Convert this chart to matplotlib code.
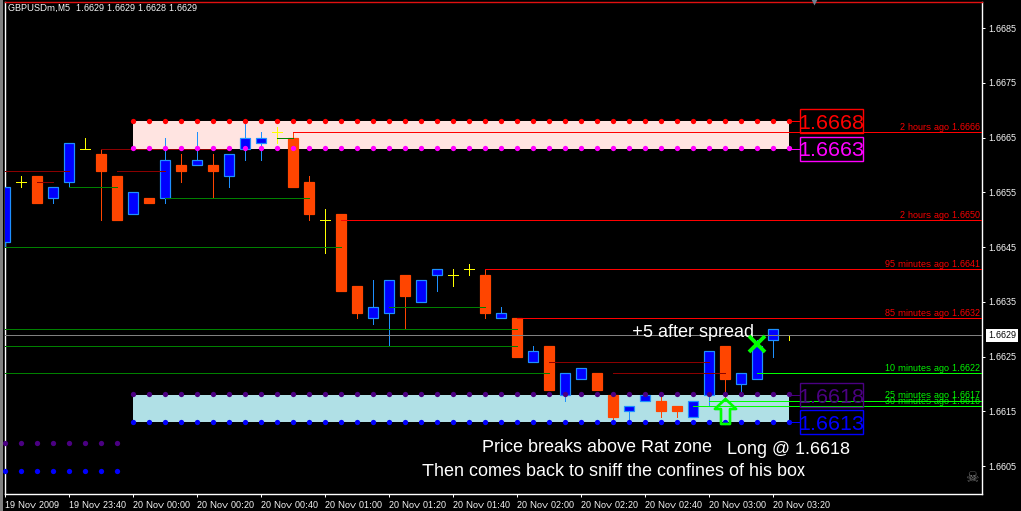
import matplotlib
matplotlib.use("Agg")
import matplotlib.pyplot as plt
from matplotlib.patches import Rectangle
from matplotlib.path import Path
from matplotlib.transforms import blended_transform_factory

plt.rcParams["text.hinting"] = "native"
plt.rcParams["text.hinting_factor"] = 1

# ---------- data ----------
title = "GBPUSDm,M5  1.6629 1.6629 1.6628 1.6629"
opens = [1.6646,1.6657,1.6658,1.6654,1.6657,1.6663,1.6662,1.6658,1.6651,1.6654,
         1.6654,1.6660,1.6660,1.6660,1.6658,1.6663,1.6664,1.6666,1.6665,1.6657,
         1.6650,1.6651,1.6638,1.6632,1.6633,1.6640,1.6635,1.6640,1.6640,1.6641,
         1.6640,1.6632,1.6632,1.6624,1.6627,1.6618,1.6621,1.6622,1.6618,1.6615,
         1.6617,1.6617,1.6616,1.6614,1.6618,1.6627,1.6620,1.6621,1.6628,1.6629]
highs = [1.6656,1.6658,1.6658,1.6656,1.6664,1.6665,1.6663,1.6658,1.6655,1.6654,
         1.6665,1.6662,1.6666,1.6662,1.6662,1.6668,1.6666,1.6667,1.6666,1.6658,
         1.6652,1.6651,1.6638,1.6639,1.6639,1.6640,1.6639,1.6641,1.6641,1.6642,
         1.6641,1.6634,1.6632,1.6627,1.6627,1.6622,1.6623,1.6622,1.6618,1.6616,
         1.6618,1.6618,1.6616,1.6617,1.6626,1.6627,1.6622,1.6628,1.6630,1.6629]
lows = [1.6645,1.6656,1.6653,1.6653,1.6656,1.6663,1.6650,1.6650,1.6651,1.6653,
        1.6653,1.6657,1.6660,1.6654,1.6656,1.6661,1.6661,1.6664,1.6656,1.6650,
        1.6644,1.6637,1.6632,1.6631,1.6627,1.6630,1.6635,1.6637,1.6638,1.6640,
        1.6632,1.6632,1.6625,1.6624,1.6619,1.6617,1.6621,1.6619,1.6613,1.6613,
        1.6617,1.6614,1.6614,1.6614,1.6616,1.6617,1.6618,1.6621,1.6625,1.6628]
closes = [1.6656,1.6657,1.6653,1.6656,1.6664,1.6663,1.6659,1.6650,1.6655,1.6653,
          1.6661,1.6659,1.6661,1.6659,1.6662,1.6665,1.6665,1.6666,1.6656,1.6651,
          1.6650,1.6637,1.6633,1.6634,1.6639,1.6636,1.6639,1.6641,1.6640,1.6641,
          1.6633,1.6633,1.6625,1.6626,1.6619,1.6622,1.6623,1.6619,1.6614,1.6616,
          1.6618,1.6615,1.6615,1.6617,1.6626,1.6621,1.6622,1.6627,1.6630,1.6629]

x_tick_labels = ["19 Nov 2009","19 Nov 23:40","20 Nov 00:00","20 Nov 00:20","20 Nov 00:40",
                 "20 Nov 01:00","20 Nov 01:20","20 Nov 01:40","20 Nov 02:00","20 Nov 02:20",
                 "20 Nov 02:40","20 Nov 03:00","20 Nov 03:20"]
y_ticks = [1.6605,1.6615,1.6625,1.6635,1.6645,1.6655,1.6665,1.6675,1.6685]

# short segments: price, first bar, last bar
dark_red_levels = [1.6659,1.6657,1.6663,1.6659,1.6624,1.6622]
dark_red_from = [0,2,6,7,34,38]
dark_red_to = [4,3,14,10,44,45]
green_levels = [1.6656,1.6654,1.6665,1.6645,1.6634,1.6630,1.6627,1.6622]
green_from = [4,10,17,0,24,0,0,0]
green_to = [7,19,18,21,30,32,32,34]

# levels running to the right edge: price, first bar, caption
red_levels = [1.6666,1.6650,1.6641,1.6632]
red_from = [18,21,30,32]
red_text = ["2 hours ago 1.6666","2 hours ago 1.6650","95 minutes ago 1.6641","85 minutes ago 1.6632"]
lime_levels = [1.6622,1.6617,1.6616]
lime_from = [47,44,43]
lime_text = ["10 minutes ago 1.6622","25 minutes ago 1.6617","30 minutes ago 1.6616"]

last_price = 1.6629
zone_first, zone_last = 8, 49
upper_zone = (1.6663, 1.6668)
lower_zone = (1.6613, 1.6618)
prior_first, prior_last = 0, 7
prior_zone = (1.66041, 1.66093)
entry_price = 1.6618

# ---------- figure ----------
W, H = 1021, 511
BLACK = "#000000"
fig = plt.figure(figsize=(W/100, H/100), dpi=100, facecolor=BLACK)
fig.add_artist(Rectangle((0, 0), 2.5/W, 1, transform=fig.transFigure, fc="#808080", ec="none"))
ax = fig.add_axes([5/W, 17/H, 977/W, 492/H], facecolor=BLACK)
ax.set_xlim(0, 977/16)
ax.set_ylim(1.6665-(494-137.7)/54750, 1.6665+(137.7-2)/54750)
PX = 0.72
FONT = "Liberation Sans"

for s in ("left", "right", "bottom"):
    ax.spines[s].set_color("white"); ax.spines[s].set_linewidth(PX*1.4)
ax.spines["top"].set_color("#e01010"); ax.spines["top"].set_linewidth(PX*1.4)

ax.yaxis.tick_right()
ax.set_yticks(y_ticks, [f"{v:.4f}" for v in y_ticks])
ax.set_xticks(range(0, 4*len(x_tick_labels), 4), x_tick_labels)
ax.tick_params(axis="y", colors="white", length=2.2, width=PX, pad=2, labelsize=6.8)
ax.tick_params(axis="x", colors="white", length=2.2, width=PX, pad=2.5, labelsize=6.8)
for t in ax.get_yticklabels():
    t.set_family(FONT)
for t in ax.get_xticklabels():
    t.set_family(FONT); t.set_ha("left")

# zones
ax.add_patch(Rectangle((zone_first, upper_zone[0]), zone_last-zone_first, upper_zone[1]-upper_zone[0],
                       fc="#FFE4E1", ec="none", zorder=1))
ax.add_patch(Rectangle((zone_first, lower_zone[0]), zone_last-zone_first, lower_zone[1]-lower_zone[0],
                       fc="#B0E0E6", ec="none", zorder=1))

# candles
for i, (o, h, l, c) in enumerate(zip(opens, highs, lows, closes)):
    if o == c:
        ax.vlines(i, l, h, color="yellow", lw=PX, zorder=3, antialiased=False)
        ax.hlines(c, i-0.33, i+0.33, color="yellow", lw=PX, zorder=3, antialiased=False)
        continue
    up = c > o
    edge = "#1E90FF" if up else "#FF4500"
    fill = "#0000FF" if up else "#FF4500"
    ax.vlines(i, l, h, color=edge, lw=PX, zorder=3, antialiased=False)
    ax.bar(i, abs(c-o), bottom=min(o, c), width=10/16, color=fill, edgecolor=edge,
           linewidth=PX*1.2, zorder=4)

# level lines
ax.hlines(last_price, 0, 977/16, color="#808080", lw=PX, zorder=5, antialiased=False)
ax.hlines(dark_red_levels, dark_red_from, dark_red_to, color="#8B0000", lw=PX, zorder=5, antialiased=False)
ax.hlines(green_levels, green_from, green_to, color="#008000", lw=PX, zorder=5, antialiased=False)
ax.hlines(red_levels, red_from, 977/16, color="#FF0000", lw=PX, zorder=5, antialiased=False)
ax.hlines(lime_levels, lime_from, 977/16, color="#00FF00", lw=PX, zorder=5, antialiased=False)
for lv, txt, col in list(zip(red_levels, red_text, ["#FF0000"]*4)) + list(zip(lime_levels, lime_text, ["#00FF00"]*3)):
    ax.annotate(txt, xy=(1, lv), xycoords=("axes fraction", "data"), xytext=(-1.5, 0.2),
                textcoords="offset points", ha="right", va="bottom", color=col, fontsize=6.5,
                zorder=6, family=FONT)

# zone dots
xs = list(range(zone_first, zone_last+1))
px = list(range(prior_first, prior_last+1))
def dots(x, price, col):
    ax.plot(x, [price]*len(x), ls="none", marker="o", ms=3.8, mfc=col, mec="none", zorder=7, clip_on=False)
dots(xs, upper_zone[1]+0.00001, "#FF0000")
dots(xs, upper_zone[0]+0.00001, "#FF00FF")
dots(xs, lower_zone[1]+0.00001, "#4B0082")
dots(xs, lower_zone[0], "#0000FF")
dots(px, prior_zone[1], "#4B0082")
dots(px, prior_zone[0], "#0000FF")

# zone price boxes
for price, col in ((upper_zone[1], "#FF0000"), (upper_zone[0], "#FF00FF"),
                   (lower_zone[1], "#4B0082"), (lower_zone[0], "#0000FF")):
    ax.plot([zone_last, 49.69], [price, price], color=col, lw=PX, zorder=6, antialiased=False)
    ax.add_patch(Rectangle((49.69, price-0.00022), 3.94, 0.00044, fc="none", ec=col, lw=PX*1.4, zorder=6))
    ax.text(51.66, price, f"{price:.4f}", color=col, ha="center", va="center_baseline",
            fontsize=15, family=FONT, zorder=6)

# annotations
ax.text(43.03, 1.66295, "+5 after spread", color="white", fontsize=12.8, ha="center", va="center",
        family=FONT, zorder=8)
ax.text(37.0, 1.66085, "Price breaks above Rat zone", color="white", fontsize=12.85, ha="center", va="center",
        family=FONT, zorder=8)
ax.text(48.97, 1.66081, "Long @ 1.6618", color="white", fontsize=13, ha="center", va="center",
        family=FONT, zorder=8)
ax.text(38.0, 1.66041, "Then comes back to sniff the confines of his box", color="white", fontsize=12.85,
        ha="center", va="center", family=FONT, zorder=8)

# entry arrow and exit cross
arrow = Path([(0, 1), (0.85, 0.2), (0.36, 0.2), (0.36, -1), (-0.36, -1), (-0.36, 0.2), (-0.85, 0.2), (0, 1)], closed=True)
ax.plot([45], [1.661517], marker=arrow, ms=18, mfc="none", mec="#00FF00", mew=1.9, zorder=9)
ax.plot([47], [1.66273], marker="x", ms=11, mec="#00FF00", mew=2.8, zorder=9)

# last price tag
ax.annotate(f"{last_price:.4f}", xy=(1, last_price), xycoords=("axes fraction", "data"), xytext=(4.4, 0),
            textcoords="offset points", ha="left", va="center_baseline", color="black", fontsize=6.8,
            family=FONT, annotation_clip=False, zorder=10,
            bbox=dict(boxstyle="square,pad=0.2", fc="white", ec="none"))

# header, chart-shift marker, skull
ax.text(3/977, 1-6/492, title, transform=ax.transAxes, color="white", fontsize=6.8, ha="left", va="center",
        family=FONT, zorder=10)
ax.plot([50.56], [1], transform=blended_transform_factory(ax.transData, ax.transAxes), marker="v", ms=5,
        mfc="#708090", mec="none", clip_on=False, zorder=10)
ax.text(60.4, 1.66042, "\u2620", color="#808080", fontsize=11, ha="center", va="top",
        family="DejaVu Sans", zorder=10)

fig.savefig("out.png", dpi=100, facecolor=BLACK)
